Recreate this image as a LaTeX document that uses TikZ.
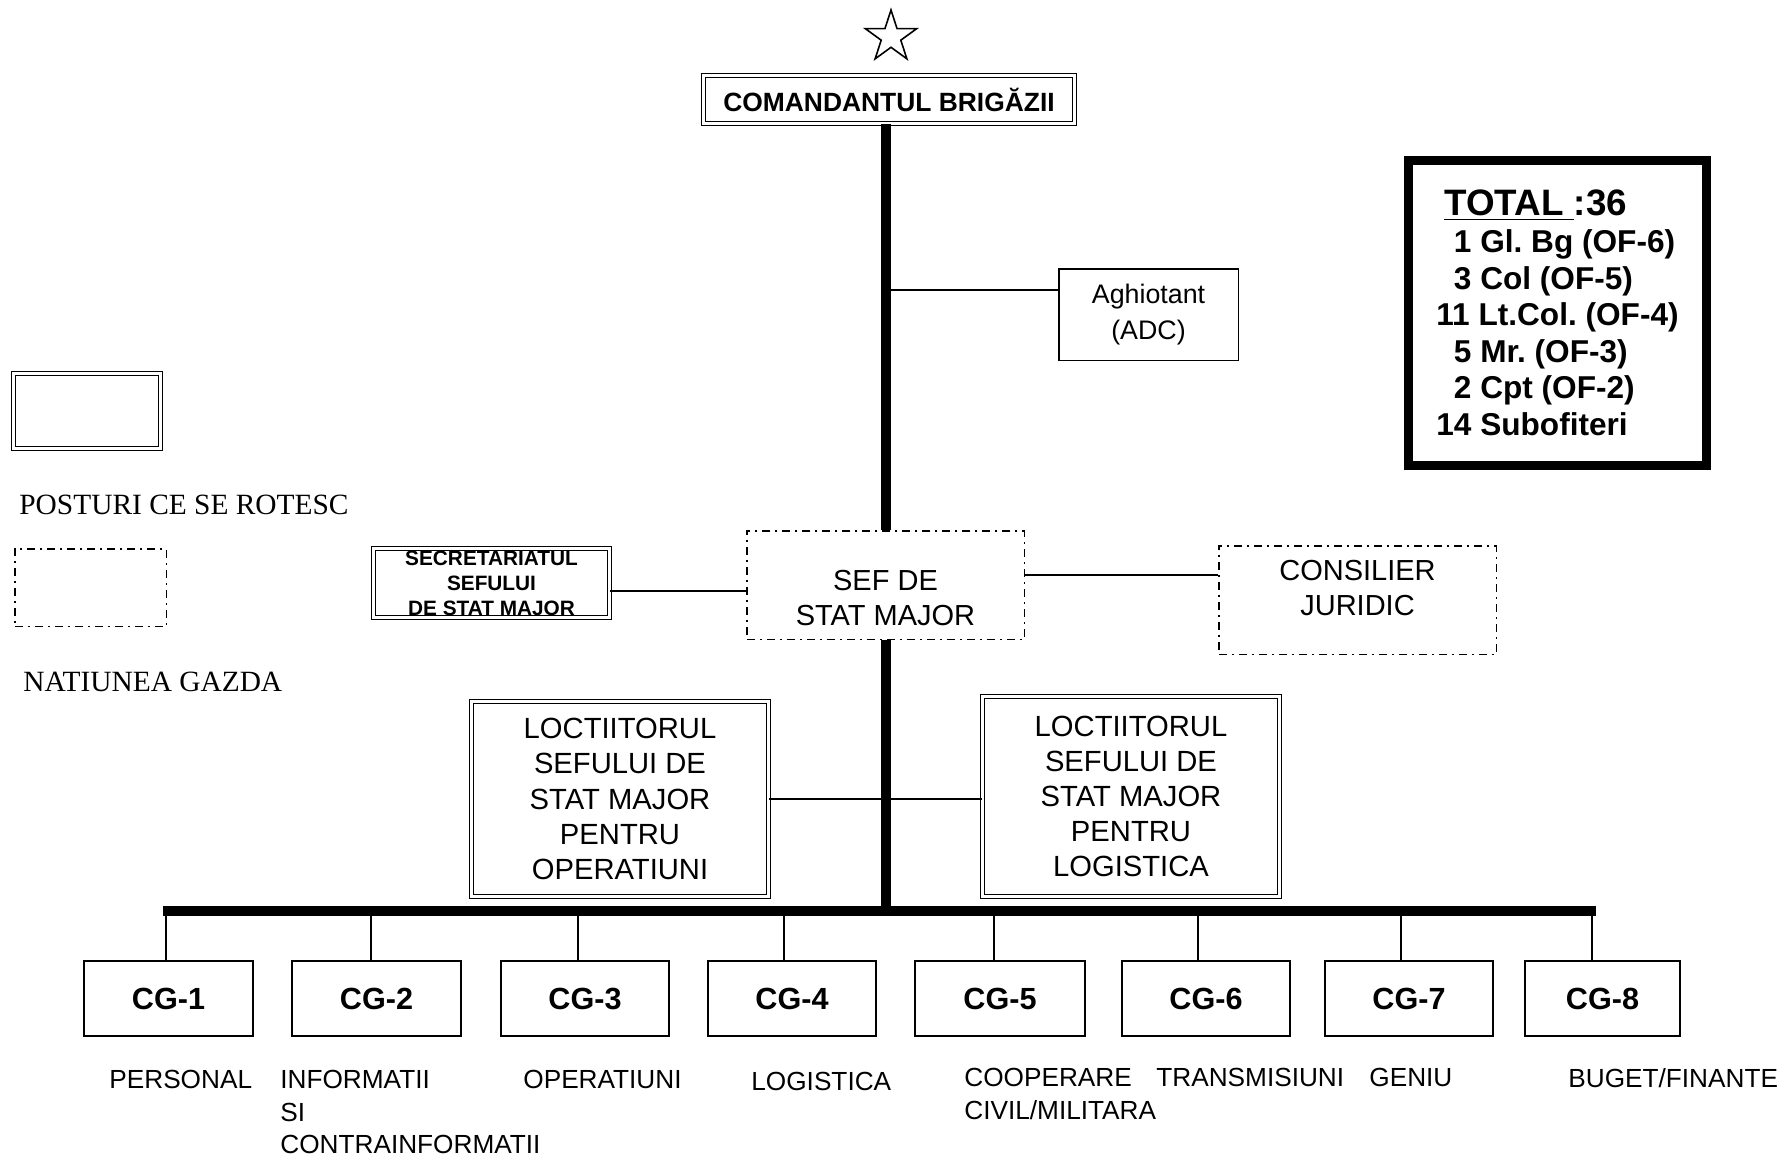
\documentclass[tikz,border=0pt]{standalone}
\usepackage{fontspec}
\setmainfont{Liberation Sans}
\newfontfamily\legendfont{Liberation Serif}
\usepackage{tikz}
\usetikzlibrary{shapes.geometric}
\frenchspacing
\def\busy{911}
\def\boxfont{\fontsize{14.6pt}{17.6pt}\selectfont}
\def\labelfont{\fontsize{13.1pt}{16.3pt}\selectfont}

\begin{document}
\begin{tikzpicture}[x=0.5pt,y=-0.5pt]
    \tikzstyle{link}=[line width=1pt]
    \tikzstyle{spine}=[line width=5pt]
    \tikzstyle{double box}=[draw, double, line width=0.6pt, double distance=1.4pt, inner sep=0pt, align=center]
    \tikzstyle{host box}=[draw, line width=0.75pt, dash pattern=on 4pt off 2.5pt on 1pt off 2.5pt, inner sep=0pt]
    \tikzstyle{plain box}=[draw, line width=0.75pt, inner sep=0pt, align=center]
    \tikzstyle{cg box}=[draw, line width=0.9pt, inner sep=0pt, minimum height=37.6pt, font=\fontsize{15.3pt}{18pt}\selectfont\bfseries]
    \tikzstyle{branch}=[inner sep=0pt, anchor=north west, align=left, font=\labelfont]
    \tikzstyle{legend}=[inner sep=0pt, anchor=west, font=\fontsize{14.7pt}{17pt}\selectfont\legendfont]

    \useasboundingbox (0,0) rectangle (1785,1156);

    % Draw the commander
    \node[star, star points=5, star point ratio=2.618, draw, line width=0.8pt, minimum size=27pt, inner sep=0pt] (star) at (891,37) {};
    \node[double box, minimum width=185.4pt, minimum height=23.9pt, font=\fontsize{13.2pt}{16pt}\selectfont\bfseries] (cmd) at (889,99.5) {COMANDANTUL BRIGĂZII};

    \node[plain box, minimum width=89.75pt, minimum height=45.75pt, font=\fontsize{13.4pt}{18pt}\selectfont] (agh) at (1148.5,314.5) {Aghiotant\\(ADC)};

    \node[draw, line width=4.5pt, minimum width=149pt, minimum height=152.5pt, inner sep=0pt, align=left, font=\fontsize{15.8pt}{18.3pt}\selectfont\bfseries] (total) at (1557.5,313)
        {\hspace*{4pt}{\fontsize{18.4pt}{18.3pt}\selectfont\underline{TOTAL }:36}\\
         \phantom{1}1 Gl. Bg (OF-6)\\
         \phantom{1}3 Col (OF-5)\\
         11 Lt.Col. (OF-4)\\
         \phantom{1}5 Mr. (OF-3)\\
         \phantom{1}2 Cpt (OF-2)\\
         14 Subofiteri};

    % Draw the legend
    \node[double box, minimum width=73.4pt, minimum height=37.4pt] (leg-rot) at (87,411) {};
    \node[legend] (leg-rot-txt) at (19,505) {POSTURI CE SE ROTESC};
    \node[host box, minimum width=75.75pt, minimum height=38.75pt] (leg-host) at (90.5,587.5) {};
    \node[legend] (leg-host-txt) at (23,682) {NATIUNEA GAZDA};

    % Draw the chief of staff row
    \node[host box, minimum width=138.75pt, minimum height=54.25pt] (sef) at (885.5,585) {};
    \node[align=center, inner sep=0pt, font=\fontsize{14.5pt}{17.5pt}\selectfont] (sef-txt) at ([yshift=-6.5pt]sef.center) {SEF DE\\STAT MAJOR};
    \node[double box, minimum width=117.9pt, minimum height=34.4pt] (secr) at (491.5,583) {};
    \node[align=center, inner sep=0pt, font=\fontsize{10.4pt}{12.5pt}\selectfont\bfseries] (secr-txt) at (secr.center) {SECRETARIATUL\\SEFULUI\\DE STAT MAJOR};
    \node[host box, minimum width=138.75pt, minimum height=54.25pt] (cons) at (1357.5,600) {};
    \node[align=center, inner sep=0pt, font=\fontsize{14.5pt}{17.5pt}\selectfont] (cons-txt) at ([yshift=6pt]cons.center) {CONSILIER\\JURIDIC};

    % Draw the deputies
    \node[double box, minimum width=148.4pt, minimum height=97.4pt, font=\boxfont] (locop) at (620,799) {LOCTIITORUL\\SEFULUI DE\\STAT MAJOR\\PENTRU\\OPERATIUNI};
    \node[double box, minimum width=148.4pt, minimum height=99.9pt, font=\boxfont] (loclog) at (1131,796.5) {LOCTIITORUL\\SEFULUI DE\\STAT MAJOR\\PENTRU\\LOGISTICA};

    % Draw the spine and the bus
    \coordinate (bus-w) at (163,\busy);
    \coordinate (bus-e) at (1596,\busy);
    \draw[spine] (sef.north |- cmd.south) -- (sef.north);
    \draw[spine] (sef.south) -- (sef.south |- bus-w);
    \draw[spine] (bus-w) -- (bus-e);

    \coordinate (agh-j) at (886,290);
    \draw[link] (agh-j) -- (agh-j -| agh.west);
    \coordinate (secr-j) at ([yshift=-4pt]secr.east);
    \draw[link] (secr-j) -- (secr-j -| sef.west);
    \coordinate (cons-j) at ([yshift=5pt]sef.east);
    \draw[link] (cons-j) -- (cons-j -| cons.west);
    \draw[link] (locop.east) -- (locop.east -| loclog.west);

    % Draw the staff cells
    \foreach \name / \x / \w / \d in {1/168.5/84.6/166, 2/376.5/84.6/371, 3/585/84.1/578, 4/792/84.1/784, 5/1000/85.1/994, 6/1206/84.1/1198, 7/1409/84.1/1401, 8/1602.5/77.6/1592}
    {
        \path node[cg box, minimum width=\w pt] (CG-\name) at (\x,998.5) {CG-\name};
        \coordinate (B-\name) at (\d,\busy);
        \draw[link] (B-\name) -- (B-\name |- CG-\name.north);
    }

    \foreach \x / \y / \txt [count=\i] in {109/1070/PERSONAL, 280/1070/{INFORMATII\\SI\\CONTRAINFORMATII}, 523/1070/OPERATIUNI, 751/1072/LOGISTICA, 964/1068/{COOPERARE\\CIVIL/MILITARA}, 1156/1068/TRANSMISIUNI, 1369/1068/GENIU, 1568/1068/{BUGET/FINANTE}}
        \path node[branch] (L-\i) at (\x,\y) {\txt};

\end{tikzpicture}
\end{document}
